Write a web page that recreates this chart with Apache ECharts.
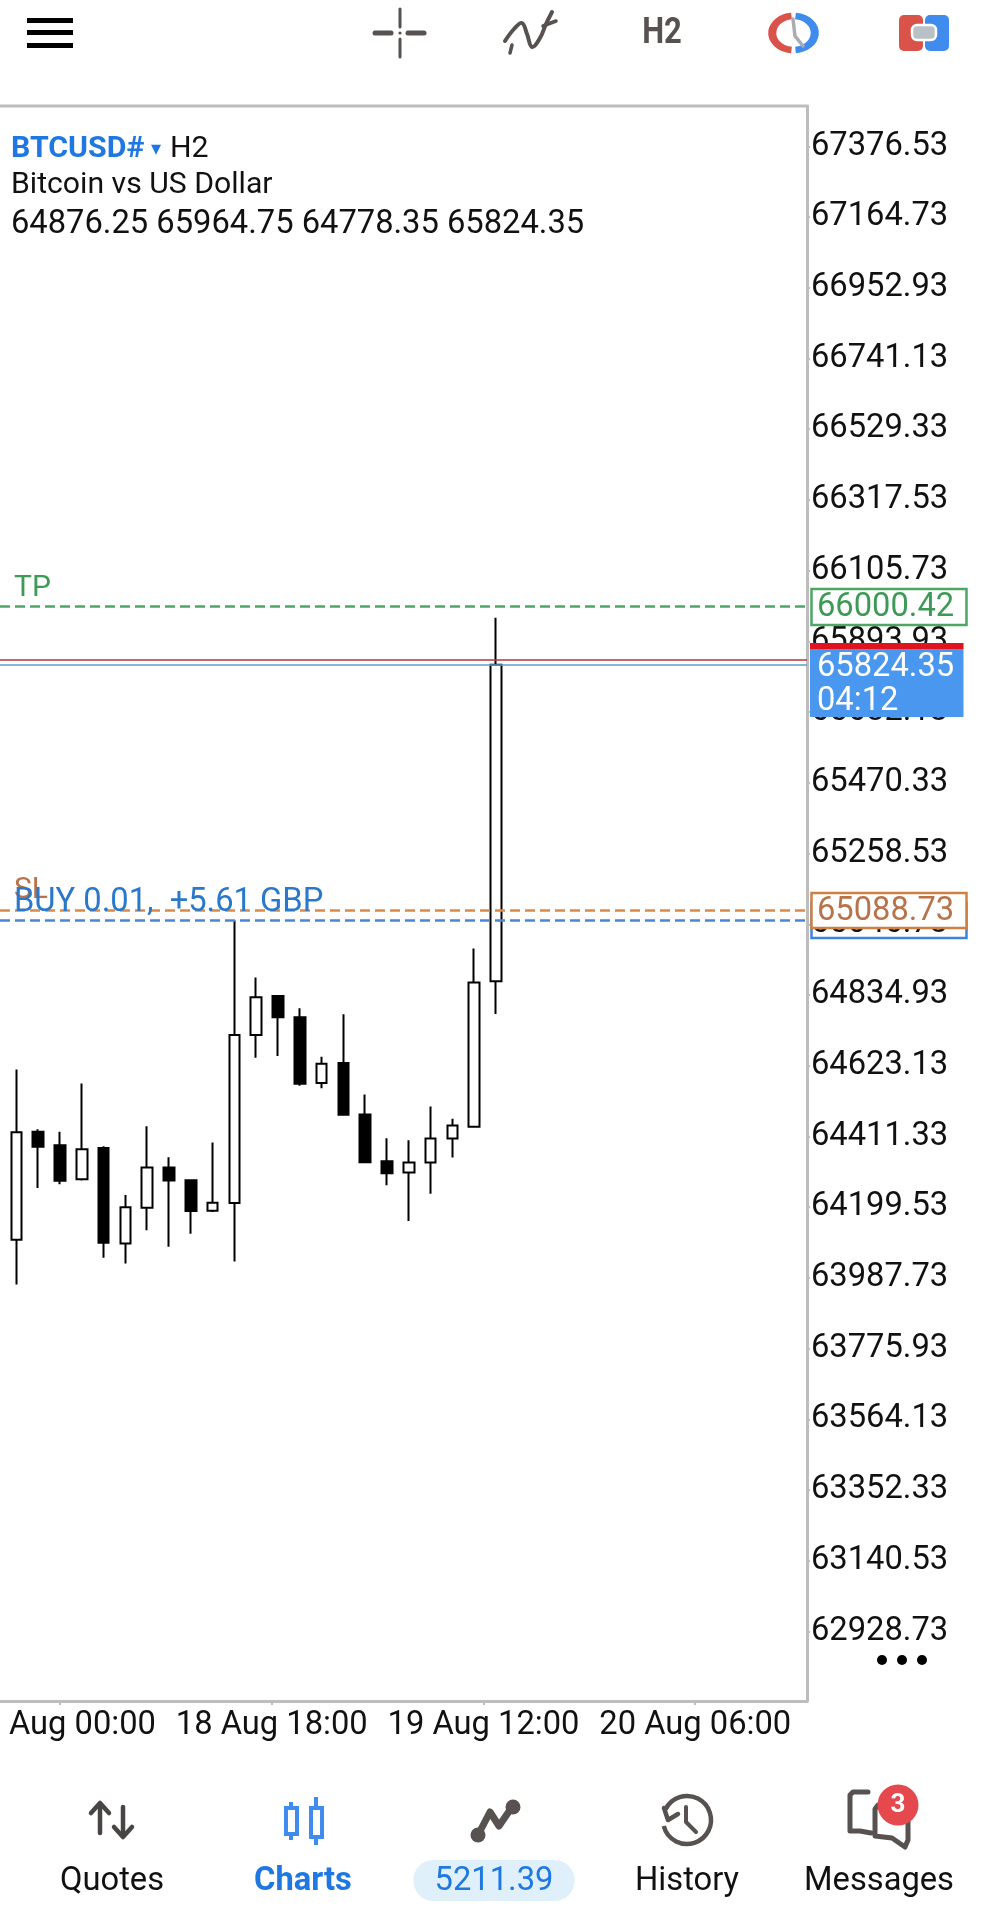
<!DOCTYPE html>
<html><head><meta charset="utf-8">
<style>html,body{margin:0;padding:0;background:#fff}#c{width:990px;height:1920px}</style>
<script src="https://cdn.jsdelivr.net/npm/echarts@6/dist/echarts.min.js"></script>
</head><body><div id="c"></div>
<script>
const barTimes = ['17 Aug 20:00','17 Aug 22:00','18 Aug 00:00','18 Aug 02:00','18 Aug 04:00','18 Aug 06:00','18 Aug 08:00','18 Aug 10:00','18 Aug 12:00','18 Aug 14:00','18 Aug 16:00','18 Aug 18:00','18 Aug 20:00','18 Aug 22:00','19 Aug 00:00','19 Aug 02:00','19 Aug 04:00','19 Aug 06:00','19 Aug 08:00','19 Aug 10:00','19 Aug 12:00','19 Aug 14:00','19 Aug 16:00','19 Aug 18:00','19 Aug 20:00','19 Aug 22:00','20 Aug 00:00','20 Aug 02:00','20 Aug 04:00','20 Aug 06:00','20 Aug 08:00','20 Aug 10:00','20 Aug 12:00','20 Aug 14:00','20 Aug 16:00','20 Aug 18:00','20 Aug 20:00'];
const opens  = [64102,64425.5,64384.6,64282.8,64376.6,64091,64198,64318,64280,64189,64212,64715,64832,64768,64571,64631,64477,64337,64303,64333,64405,64440,64876.25];
const closes = [64423.5,64380.6,64278.8,64372.6,64093,64199,64318,64279,64188,64213,64715,64828,64768,64569,64629,64476,64334,64301,64333,64405,64444,64872,65824.35];
const lows   = [63968,64257,64268,64279,64048,64031,64130,64081,64120,64185,64037,64647,64652,64563,64556,64476,64334,64265,64158,64240,64348,64440,64778.35];
const highs  = [64612,64433,64425.5,64570,64381.6,64236,64441.5,64349,64280,64393,65059,64887,64832,64795,64650,64777,64537,64406,64400,64501,64464,64974,65964.75];
const priceTicks = [67376.53,67164.73,66952.93,66741.13,66529.33,66317.53,66105.73,65893.93,65682.13,65470.33,65258.53,65046.73,64834.93,64623.13,64411.33,64199.53,63987.73,63775.93,63564.13,63352.33,63140.53,62928.73];
const timeTickHours = [0,18,36,54];
const timeTickLabels = ['18 Aug 00:00','18 Aug 18:00','19 Aug 12:00','20 Aug 06:00'];
const priceMin = 62720.5, priceMax = 67497.4;
const tpPrice = 66000.42, slPrice = 65088.73, buyPrice = 65059.00, bidPrice = 65824.35, askPrice = 65840.00;
const ohlcHeader = [64876.25,65964.75,64778.35,65824.35];
const balance = '5211.39', countdown = '04:12', pnlText = 'BUY 0.01,  +5.61 GBP';

const F = 'Roboto';
const DARK = '#575150', BLUE='#1f78e2', FRAME='#bdbdbd';
const txt = (text,x,y,o={}) => ({type:'text',z:o.z||100,x,y:y+2.5,scaleY:o.sy||1,silent:true,style:{text,x:0,y:0,font:`${o.w||'normal'} ${o.s||32.7}px ${F}`,fill:o.c||'#111',textAlign:o.a||'left',textVerticalAlign:'middle'}});
const box = (x,y,w,h,stroke,fill,lw,z,r) => ({type:'rect',z,silent:true,shape:{x,y,width:w,height:h,r:r||0},style:{fill:fill||null,stroke:stroke||null,lineWidth:lw||0}});
const line = (pts,c,lw,o={}) => ({type:'polyline',z:o.z||100,silent:true,shape:{points:pts,smooth:o.smooth||0},style:{stroke:c,lineWidth:lw,fill:null,lineCap:o.cap||'round',lineJoin:'round'}});
const dot = (x,y,r,c,z) => ({type:'circle',z:z||100,silent:true,shape:{cx:x,cy:y,r},style:{fill:c}});
const arc = (x,y,r,a0,a1,c,lw,sx) => ({type:'arc',z:100,silent:true,x,y,scaleX:sx||1,shape:{cx:0,cy:0,r,startAngle:a0,endAngle:a1,clockwise:true},style:{stroke:c,lineWidth:lw,fill:null}});

const graphics = [
  line([[0,106],[807,106]],FRAME,3,{cap:'butt'}),
  box(27,18,46,5,null,'#000',0,100), box(27,30,46,5,null,'#000',0,100), box(27,43,46,5,null,'#000',0,100),
  line([[375,33],[391,33]],DARK,5), line([[408,33],[424,33]],DARK,5), line([[400,9],[400,27]],DARK,3), line([[400,39],[400,57]],DARK,3), dot(400,33,1.6,DARK),
  line([[505,41],[514,29],[522,23],[527,34],[532,47],[540,38],[546,24],[552,12]],DARK,4,{smooth:0.4}),
  line([[510,53],[512,45]],DARK,3.5), line([[543,26],[556,21]],DARK,3.5),
  txt('H2',662,31,{w:'bold',s:31,c:DARK,a:'center',sy:1.18}),
  arc(793.5,33,17,Math.PI*0.53,Math.PI*1.47,'#d9534a',6.5,1.25),
  arc(793.5,33,17,-Math.PI*0.47,Math.PI*0.47,'#3f8bee',6.5,1.25),
  line([[793,19],[795,36],[803,46]],'#a9adb2',3.5),
  box(899,15,24,36,null,'#d9534a',0,100,5), box(925,15,24,36,null,'#3f8bee',0,100,5),
  box(912,25,24,15,'#ffffff','#b9c0c6',2.5,101,5),
  txt('BTCUSD#',11,147,{w:'bold',s:30.3,c:BLUE}),
  txt('▾',151,147,{s:20,c:BLUE}),
  txt('H2',170,147,{s:30.3}),
  txt('Bitcoin vs US Dollar',11,183,{s:30.2}),
  txt(ohlcHeader.map(v=>v.toFixed(2)).join(' '),11,222),
  txt('TP',14,586,{s:30,c:'#3f9a58'}),
  txt('SL',14,888,{s:30,c:'#b9734a'}),
  txt(pnlText,14,900,{c:'#2a78cc'}),
  box(811.5,589,155,36,'#4ea566','#ffffff',2.5,110),
  txt(tpPrice.toFixed(2),817,605,{c:'#3d9a56',z:111}),
  box(811.5,903,155,35,'#3f83e0',null,2.5,110),
  box(811.5,893,155,35,'#d08040','#ffffff',2.5,112),
  txt(slPrice.toFixed(2),817,909,{c:'#b9734a',z:113}),
  box(810,649,153.5,68,null,'#4a97f0',0,110),
  box(810,643,153.5,6,null,'#e0141e',0,111),
  txt(bidPrice.toFixed(2),817,665,{c:'#ffffff',z:112}),
  txt(countdown,817,699,{c:'#ffffff',z:112}),
  dot(882,1660,5,'#000'), dot(902,1660,5,'#000'), dot(922,1660,5,'#000'),
  line([[100,1833],[100,1805]],'#4a4545',4.5), line([[91,1813],[100,1803],[109,1813]],'#4a4545',4.5),
  line([[123,1807],[123,1835]],'#4a4545',4.5), line([[114,1827],[123,1837],[132,1827]],'#4a4545',4.5),
  txt('Quotes',112,1879,{a:'center'}),
  line([[291,1802],[291,1840]],'#3f8bee',4,{cap:'butt'}), box(286,1808,11,26,'#3f8bee','#ffffff',4,101),
  line([[316,1797],[316,1845]],'#3f8bee',4,{cap:'butt'}), box(311,1808,11,29,'#3f8bee','#ffffff',4,101),
  txt('Charts',303,1879,{a:'center',w:'bold',c:BLUE}),
  line([[478,1835],[490,1812],[499,1826],[512,1807]],DARK,7),
  dot(478,1835,7.5,DARK), dot(513,1807,7.5,DARK),
  box(413.5,1860,161,41,null,'#dff0fb',0,100,20),
  txt(balance,494,1879,{a:'center',c:BLUE,z:101}),
  arc(687,1820,24,-Math.PI*0.85,Math.PI*0.92,DARK,4.5,1),
  line([[664,1808],[668,1820],[678,1814]],DARK,4.5),
  line([[686,1807],[686,1822],[696,1832]],DARK,4),
  txt('History',687,1879,{a:'center'}),
  line([[868,1792],[853,1792],[850,1795],[850,1831],[860,1831],[871,1833]],DARK,5),
  line([[888,1805],[878,1805],[875,1809],[875,1836],[892,1838],[905,1847],[908,1840],[908,1812]],DARK,5),
  dot(898,1805,20.5,'#e5484d',101),
  txt('3',898,1803,{a:'center',c:'#fff',s:26,w:'bold',z:102}),
  txt('Messages',879,1879,{a:'center'})
];

const axisText = {fontFamily:F,fontSize:32.7,color:'#111'};
const tpLine = (y,color,type,w) => ({yAxis:y,lineStyle:{color,type,width:w}});
const option = {
  animation:false,
  backgroundColor:'#fff',
  grid:[
    {left:0,top:106,width:807,height:1595,containLabel:false,outerBoundsMode:'none'},
    {left:5.5,top:106,width:806.6,height:1595,containLabel:false,outerBoundsMode:'none'}
  ],
  xAxis:[
    {type:'value',gridIndex:0,min:-5.1,max:63.5,splitLine:{show:false},
     axisLine:{onZero:false,lineStyle:{color:FRAME,width:3}},
     axisTick:{length:4,lineStyle:{color:FRAME,width:2},customValues:timeTickHours},
     axisLabel:{...axisText,margin:8,customValues:timeTickHours,hideOverlap:false,
       formatter:v=>timeTickLabels[timeTickHours.indexOf(v)]||''}},
    {type:'category',gridIndex:1,data:barTimes,show:false}
  ],
  yAxis:[
    {type:'value',gridIndex:0,position:'right',min:priceMin,max:priceMax,splitLine:{show:false},
     axisLine:{show:true,onZero:false,lineStyle:{color:FRAME,width:3}},
     axisTick:{show:true,length:3,lineStyle:{color:FRAME,width:2},customValues:priceTicks},
     axisLabel:{...axisText,margin:4,padding:[9,0,0,0],customValues:priceTicks,formatter:v=>v.toFixed(2)}},
    {type:'value',gridIndex:1,min:priceMin,max:priceMax,show:false,splitLine:{show:false}}
  ],
  series:[
    {type:'candlestick',xAxisIndex:1,yAxisIndex:1,barWidth:11,silent:true,
     data:opens.map((o,i)=>[o,closes[i],lows[i],highs[i]]),
     itemStyle:{color:'#ffffff',color0:'#000000',borderColor:'#000000',borderColor0:'#000000',borderWidth:2}},
    {type:'line',xAxisIndex:0,yAxisIndex:0,data:[],silent:true,z:3,
     markLine:{silent:true,symbol:'none',animation:false,label:{show:false},
       data:[
         tpLine(tpPrice,'#4ea566','dashed',2.5),
         tpLine(slPrice,'#d98a4b','dashed',2.5),
         tpLine(buyPrice,'#4a86d8','dashed',2.5),
         tpLine(askPrice,'#b5333a','solid',1.6),
         tpLine(bidPrice,'#5a9ecc','solid',1.6)
       ]}}
  ],
  graphic:{elements:graphics}
};
const chart = echarts.init(document.getElementById('c'),null,{renderer:'canvas'});
chart.setOption(option);
</script></body></html>
